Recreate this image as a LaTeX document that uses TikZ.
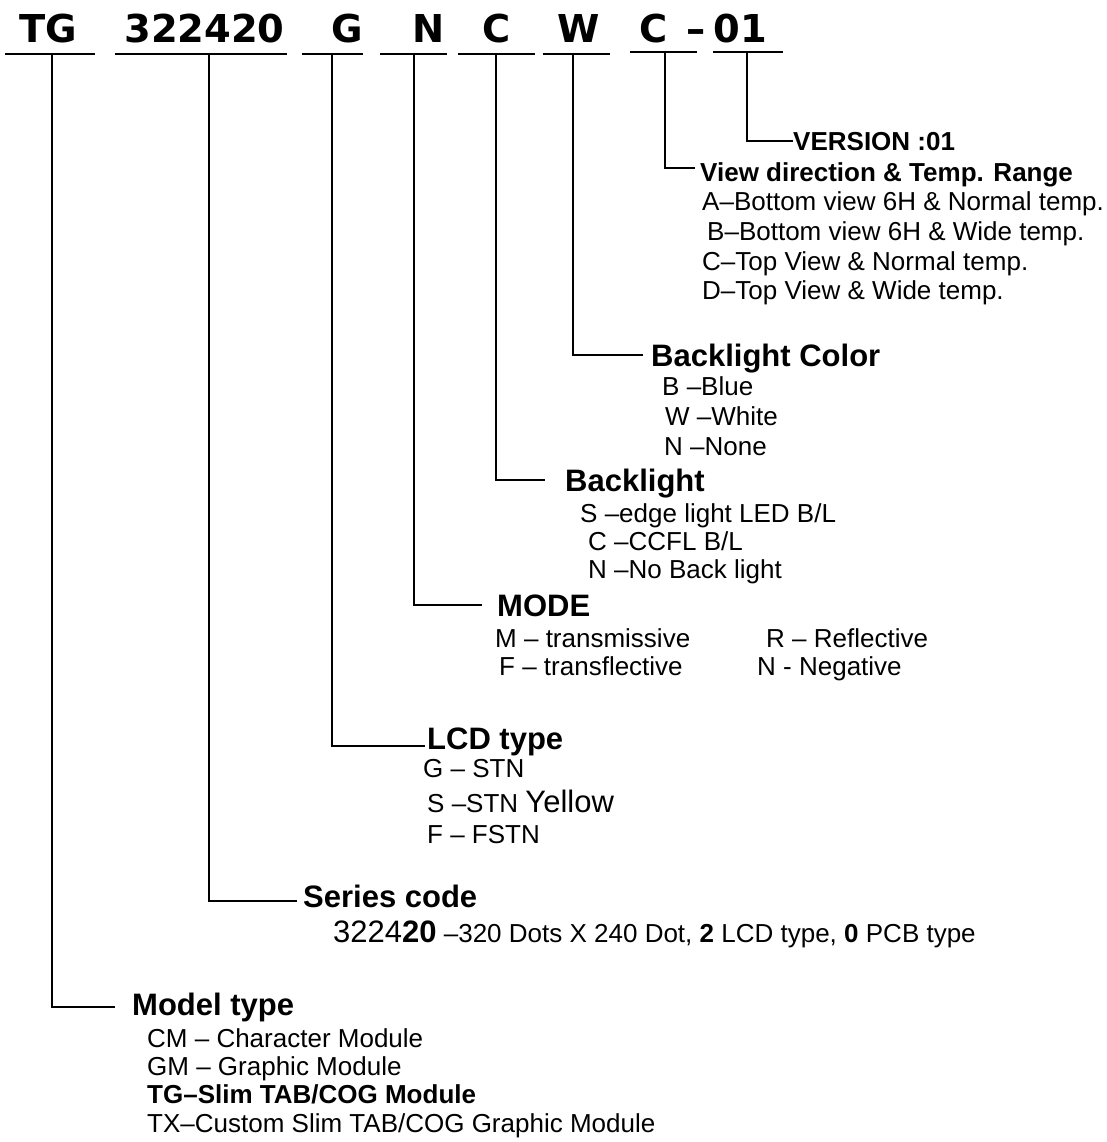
\documentclass[tikz,border=0pt]{standalone}
\usepackage{fontspec}
\setmainfont{Liberation Sans}
\newfontfamily\hdrfont{DejaVu Sans}
\tikzset{
  x=1pt, y=-1pt,
  hdr/.style={inner sep=0pt, anchor=base, font=\hdrfont\bfseries\fontsize{38.4}{40}\selectfont},
  uline/.style={line width=2.2pt},
  conn/.style={line width=2pt},
  head/.style={inner sep=0pt, anchor=base west, font=\bfseries\fontsize{31}{34}\selectfont},
  subhead/.style={inner sep=0pt, anchor=base west, font=\bfseries\fontsize{26}{30}\selectfont},
  item/.style={inner sep=0pt, anchor=base west, font=\fontsize{26}{30}\selectfont},
}
\newcommand{\bigpart}[1]{{\fontsize{31}{34}\selectfont #1}}
\begin{document}
\begin{tikzpicture}
\useasboundingbox (0,0) rectangle (1106,1142);
% header
\node[hdr] (hTG) at (48,43) {TG};
\node[hdr] (hSer) at (204.5,43) {322420};
\node[hdr] (hG) at (347.5,43) {G};
\node[hdr] (hN) at (428.5,43) {N};
\node[hdr] (hC) at (496.5,43) {C};
\node[hdr] (hW) at (578.5,43) {W};
\node[hdr] (hC2) at (653.5,43) {C};
\node[hdr] (hDash) at (696,43) {–};
\node[hdr] (hV) at (740.5,43) {01};
% underlines
\draw[uline] (5,54) -- (95,54);
\draw[uline] (115,54) -- (287,54);
\draw[uline] (302,54) -- (363,54);
\draw[uline] (380,54) -- (447,54);
\draw[uline] (458,54) -- (535,54);
\draw[uline] (543,54) -- (610,54);
\draw[uline] (630,52) -- (697,52);
\draw[uline] (713,52) -- (783,52);
% connector start and end coordinates
\coordinate (sTG) at (52,54);   \coordinate (eTG) at (115,1007);
\coordinate (sSer) at (209,54); \coordinate (eSer) at (297,901);
\coordinate (sG) at (332,54);   \coordinate (eG) at (425,746);
\coordinate (sN) at (414,54);   \coordinate (eN) at (482,605);
\coordinate (sC) at (496,54);   \coordinate (eC) at (545,480);
\coordinate (sW) at (573,54);   \coordinate (eW) at (643,355);
\coordinate (sC2) at (665,52);  \coordinate (eC2) at (695,168);
\coordinate (sV) at (747,52);   \coordinate (eV) at (793,141);
\foreach \a in {TG,Ser,G,N,C,W,C2,V} \draw[conn] (s\a) |- (e\a);
% version
\node[subhead] (tVer) at (793,151) {VERSION :01};
% view direction
\node[subhead] (tView) at (700,182) {View direction \& Temp. Range};
\node[item] (vA) at (702,211) {A–Bottom view 6H \& Normal temp.};
\node[item] (vB) at (707,240) {B–Bottom view 6H \& Wide temp.};
\node[item] (vC) at (702,270) {C–Top View \& Normal temp.};
\node[item] (vD) at (702,299) {D–Top View \& Wide temp.};
% backlight color
\node[head] (tBLC) at (651,366) {Backlight Color};
\node[item] (cB) at (662,395) {B –Blue};
\node[item] (cW) at (665,425) {W –White};
\node[item] (cN) at (664,455) {N –None};
% backlight
\node[head] (tBL) at (565,491) {Backlight};
\node[item] (bS) at (580,522) {S –edge light LED B/L};
\node[item] (bC) at (588,550) {C –CCFL B/L};
\node[item] (bN) at (588,578) {N –No Back light};
% mode
\node[head] (tMode) at (497,616) {MODE};
\node[item] (mM) at (495,647) {M – transmissive};
\node[item] (mF) at (499,675) {F – transflective};
\node[item] (mR) at (766,647) {R – Reflective};
\node[item] (mN) at (757,675) {N - Negative};
% lcd type
\node[head] (tLCD) at (427,749) {LCD type};
\node[item] (lG) at (423,777) {G – STN};
\node[item] (lS) at (427,812) {S –STN \bigpart{Yellow}};
\node[item] (lF) at (427,843) {F – FSTN};
% series code
\node[head] (tSer) at (303,907) {Series code};
\node[item] (sDesc) at (333,942) {\bigpart{3224\textbf{20}} –320 Dots X 240 Dot, \textbf{2} LCD type, \textbf{0} PCB type};
% model type
\node[head] (tMod) at (132,1015) {Model type};
\node[item] (tCM) at (147,1047) {CM – Character Module};
\node[item] (tGM) at (147,1075) {GM – Graphic Module};
\node[item,font=\bfseries\fontsize{26}{30}\selectfont] (tTGm) at (147,1103) {TG–Slim TAB/COG Module};
\node[item] (tTX) at (147,1132) {TX–Custom Slim TAB/COG Graphic Module};
\end{tikzpicture}
\end{document}
